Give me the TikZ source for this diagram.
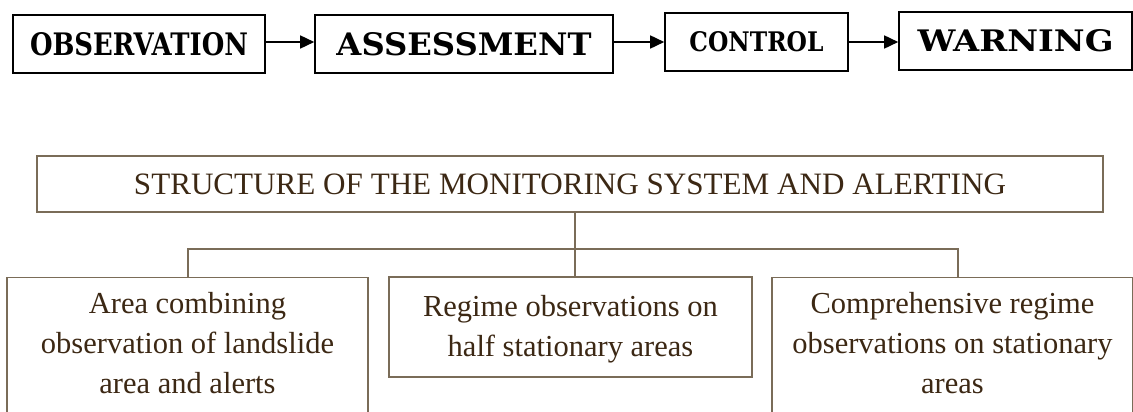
\documentclass[tikz,border=0pt]{standalone}
\usepackage{fontspec}
\setmainfont{Liberation Serif}
\newfontfamily\topserif{DejaVu Serif}
\usetikzlibrary{arrows.meta}
\definecolor{linebrown}{RGB}{122,108,88}
\definecolor{textbrown}{RGB}{60,40,20}
\newcommand{\fitwh}[3]{\resizebox{#1}{#2}{#3}}
\newcommand{\fitw}[2]{\resizebox{#1}{!}{#2}}
\tikzset{
  topbox/.style={draw=black, line width=1.6pt, rectangle, inner sep=0pt},
  arr/.style={draw=black, line width=1.6pt, -{Triangle[length=14pt,width=13pt]}},
  brbox/.style={draw=linebrown, line width=1.3pt, rectangle, inner sep=0pt},
  brtext/.style={text=textbrown, align=center, font=\fontsize{30.5}{40}\selectfont},
  conn/.style={draw=linebrown, line width=1.3pt},
}
\begin{document}
\begin{tikzpicture}[x=1pt,y=-1pt]
\useasboundingbox (0,0) rectangle (1133,412);
\clip (0,0) rectangle (1133,412);
% top row
\node[topbox, minimum width=252pt, minimum height=58pt] (obs) at (139,44) {\fitwh{218pt}{23pt}{\topserif\bfseries OBSERVATION}};
\node[topbox, minimum width=298pt, minimum height=58pt] (ass) at (464,44) {\fitwh{255pt}{23pt}{\topserif\bfseries ASSESSMENT}};
\node[topbox, minimum width=183pt, minimum height=58pt] (con) at (756.5,42) {\fitwh{134pt}{20pt}{\topserif\bfseries CONTROL}};
\node[topbox, minimum width=233pt, minimum height=58pt] (war) at (1015.5,41) {\fitwh{196pt}{22pt}{\topserif\bfseries WARNING}};
\draw[arr] ([yshift=2pt]obs.east) -- ([yshift=2pt]ass.west);
\draw[arr] ([yshift=2pt]ass.east) -- (con.west);
\draw[arr] (con.east) -- (con.east -| war.west);
% bottom structure
\node[brbox, minimum width=1066pt, minimum height=56pt] (title) at (570,184) {\color{textbrown}\fitw{872pt}{STRUCTURE OF THE MONITORING SYSTEM AND ALERTING}};
\node[brbox, anchor=north, minimum width=361pt, minimum height=170pt] (l) at (187.5,277) {};
\node[brtext, anchor=north] (ltx) at (187.5,289) {Area combining\\observation of landslide\\area and alerts};
\node[brbox, minimum width=363pt, minimum height=100pt] (m) at (570.5,327) {};
\node[brtext] (mtx) at (570.5,329) {Regime observations on\\half stationary areas};
\node[brbox, anchor=north, minimum width=361pt, minimum height=170pt] (r) at (952.5,277) {};
\node[brtext, anchor=north] (rtx) at (952.5,289) {Comprehensive regime\\observations on stationary\\areas};
\coordinate (hub) at (575,249);
\coordinate (jl) at (188,249);
\coordinate (jr) at (958,249);
\draw[conn] (jl |- l.north) -- (jl) -- (jr) -- (jr |- r.north);
\draw[conn] (hub |- title.south) -- (hub |- m.north);
\end{tikzpicture}
\end{document}
